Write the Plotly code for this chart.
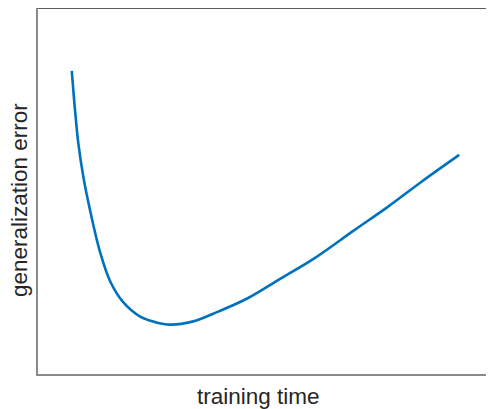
import plotly.graph_objects as go

# training time (arbitrary units) and generalization error (arbitrary units)
training_time = [7.41, 8.13, 8.86, 9.96, 11.43, 13.63, 15.82, 18.68, 22.42, 25.71,
                 29.01, 33.85, 38.53, 45.87, 53.19, 60.51, 69.30, 76.64, 83.96, 92.37]
generalization_error = [82.83, 71.93, 62.86, 53.76, 44.69, 33.24, 25.34, 19.62, 15.67, 14.17,
                        13.49, 14.31, 16.54, 20.63, 26.08, 31.53, 39.24, 45.59, 52.40, 59.86]

x_label = "training time"
y_label = "generalization error"

fig = go.Figure()
fig.add_trace(go.Scatter(
    x=training_time, y=generalization_error,
    mode="lines",
    line=dict(color="#0072BD", width=2.6, shape="spline", smoothing=1.0),
    showlegend=False, hoverinfo="skip",
))

axis_common = dict(showgrid=False, zeroline=False, showticklabels=False, ticks="",
                   showline=True, linecolor="#8a8a8a", linewidth=2, fixedrange=True)

# page body adds an 8px offset, so the figure is sized to fill the rest of the window
W, H = 486, 401
L, T, B = 30, 0, 35
pw, ph = W - L, H - T - B

fig.update_layout(
    width=W, height=H,
    margin=dict(l=L, r=0, t=T, b=B),
    paper_bgcolor="white", plot_bgcolor="white",
    xaxis=dict(range=[0, 100], **axis_common),
    yaxis=dict(range=[0, 100], **axis_common),
    font=dict(family="Liberation Sans, Arial, sans-serif", size=22, color="#262626"),
    shapes=[dict(type="line", xref="paper", yref="paper", x0=0, x1=1, y0=1, y1=1,
                 line=dict(color="#262626", width=1.5))],
    annotations=[
        dict(text=x_label, xref="paper", yref="paper", x=(258 - 38) / pw, y=-(396 - 374) / ph,
             showarrow=False, xanchor="center", yanchor="middle",
             font=dict(size=22.5, color="#262626")),
        dict(text=y_label, xref="paper", yref="paper", x=-(38 - 19) / pw, y=(374 - 200) / ph,
             showarrow=False, xanchor="center", yanchor="middle", textangle=-90,
             font=dict(size=22.5, color="#262626")),
    ],
)

fig.write_html("out.html")
